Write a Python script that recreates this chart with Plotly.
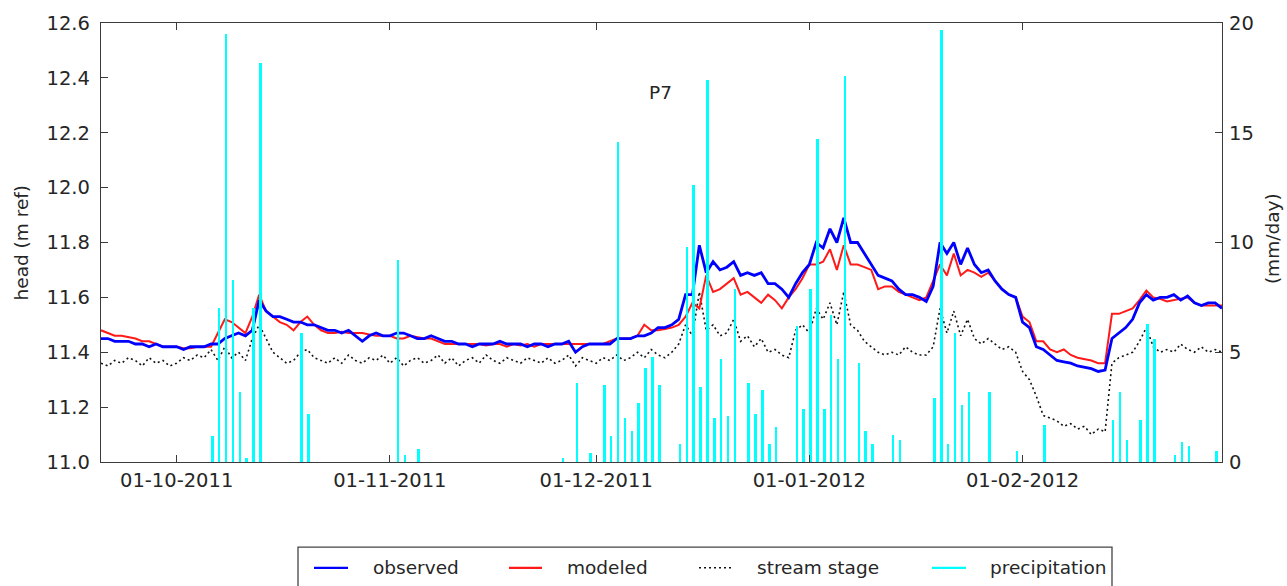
import pandas as pd
import plotly.graph_objects as go

# ---- daily series, 20 Sep 2011 .. 1 Mar 2012 ----
dates = pd.date_range("2011-09-20", "2012-03-01", freq="D")

obs_sep = [11.45, 11.45, 11.44, 11.44, 11.44, 11.43, 11.43, 11.42, 11.43, 11.42, 11.42]
obs_oct = [11.42, 11.41, 11.42, 11.42, 11.42, 11.43, 11.43, 11.45, 11.46, 11.47,
           11.46, 11.48, 11.59, 11.55, 11.53, 11.53, 11.52, 11.51, 11.51, 11.50,
           11.50, 11.49, 11.48, 11.48, 11.47, 11.48, 11.46, 11.44, 11.46, 11.47, 11.46]
obs_nov = [11.46, 11.47, 11.47, 11.46, 11.45, 11.45, 11.46, 11.45, 11.44, 11.44,
           11.43, 11.43, 11.42, 11.43, 11.43, 11.43, 11.44, 11.43, 11.43, 11.43,
           11.42, 11.43, 11.43, 11.42, 11.43, 11.43, 11.44, 11.40, 11.42, 11.43]
obs_dec = [11.43, 11.43, 11.43, 11.45, 11.45, 11.45, 11.46, 11.46, 11.47, 11.49,
           11.49, 11.50, 11.52, 11.61, 11.61, 11.79, 11.69, 11.73, 11.70, 11.71,
           11.73, 11.68, 11.69, 11.68, 11.69, 11.65, 11.65, 11.63, 11.60, 11.65, 11.69]
obs_jan = [11.72, 11.80, 11.78, 11.85, 11.80, 11.89, 11.80, 11.80, 11.76, 11.72,
           11.68, 11.67, 11.66, 11.63, 11.61, 11.61, 11.60, 11.585, 11.64, 11.80,
           11.76, 11.80, 11.72, 11.78, 11.72, 11.69, 11.70, 11.66, 11.63, 11.61, 11.60]
obs_feb = [11.51, 11.49, 11.42, 11.41, 11.39, 11.37, 11.365, 11.36, 11.35, 11.345,
           11.34, 11.33, 11.335, 11.45, 11.47, 11.49, 11.52, 11.58, 11.61, 11.59,
           11.60, 11.60, 11.61, 11.59, 11.605, 11.58, 11.57, 11.58, 11.58]
obs_mar = [11.56]

mod_sep = [11.48, 11.47, 11.46, 11.46, 11.455, 11.45, 11.44, 11.44, 11.43, 11.42, 11.42]
mod_oct = [11.42, 11.415, 11.415, 11.42, 11.42, 11.42, 11.47, 11.52, 11.51, 11.49,
           11.47, 11.53, 11.61, 11.55, 11.53, 11.51, 11.50, 11.48, 11.51, 11.53,
           11.50, 11.48, 11.47, 11.47, 11.475, 11.47, 11.47, 11.47, 11.465, 11.46, 11.46]
mod_nov = [11.46, 11.45, 11.45, 11.46, 11.455, 11.45, 11.45, 11.44, 11.43, 11.43,
           11.43, 11.43, 11.43, 11.43, 11.425, 11.43, 11.43, 11.42, 11.43, 11.425,
           11.43, 11.42, 11.43, 11.43, 11.43, 11.43, 11.43, 11.43, 11.43, 11.43]
mod_dec = [11.43, 11.43, 11.44, 11.45, 11.45, 11.45, 11.46, 11.50, 11.48, 11.48,
           11.485, 11.49, 11.50, 11.53, 11.58, 11.56, 11.68, 11.62, 11.63, 11.65,
           11.67, 11.61, 11.62, 11.60, 11.58, 11.61, 11.59, 11.56, 11.60, 11.63, 11.67]
mod_jan = [11.72, 11.72, 11.73, 11.775, 11.70, 11.79, 11.72, 11.72, 11.71, 11.70,
           11.63, 11.64, 11.64, 11.62, 11.61, 11.60, 11.59, 11.60, 11.66, 11.72,
           11.68, 11.76, 11.68, 11.70, 11.69, 11.675, 11.69, 11.66, 11.63, 11.61, 11.60]
mod_feb = [11.53, 11.51, 11.44, 11.44, 11.41, 11.40, 11.41, 11.39, 11.38, 11.375,
           11.37, 11.36, 11.36, 11.54, 11.54, 11.55, 11.56, 11.59, 11.625, 11.60,
           11.595, 11.585, 11.59, 11.595, 11.60, 11.58, 11.57, 11.57, 11.57]
mod_mar = [11.57]

stage_sep = [11.36, 11.35, 11.37, 11.36, 11.38, 11.37, 11.35, 11.38, 11.36, 11.37, 11.35]
stage_oct = [11.36, 11.38, 11.37, 11.39, 11.38, 11.41, 11.37, 11.42, 11.38, 11.40,
             11.37, 11.45, 11.50, 11.45, 11.40, 11.38, 11.36, 11.37, 11.40, 11.41,
             11.38, 11.37, 11.36, 11.38, 11.36, 11.39, 11.37, 11.36, 11.38, 11.37, 11.39]
stage_nov = [11.36, 11.38, 11.35, 11.37, 11.38, 11.36, 11.37, 11.39, 11.36, 11.38,
             11.35, 11.37, 11.38, 11.36, 11.39, 11.37, 11.36, 11.38, 11.37, 11.36,
             11.38, 11.37, 11.36, 11.38, 11.36, 11.37, 11.39, 11.35, 11.38, 11.37]
stage_dec = [11.36, 11.38, 11.37, 11.39, 11.37, 11.38, 11.40, 11.38, 11.41, 11.39,
             11.38, 11.40, 11.43, 11.50, 11.46, 11.62, 11.48, 11.50, 11.46, 11.47,
             11.52, 11.44, 11.46, 11.42, 11.45, 11.40, 11.41, 11.39, 11.38, 11.48, 11.50]
stage_jan = [11.47, 11.56, 11.52, 11.58, 11.50, 11.62, 11.50, 11.48, 11.44, 11.42,
             11.40, 11.39, 11.40, 11.39, 11.42, 11.40, 11.39, 11.39, 11.42, 11.56,
             11.47, 11.55, 11.46, 11.52, 11.45, 11.43, 11.45, 11.43, 11.41, 11.42, 11.40]
stage_feb = [11.33, 11.30, 11.24, 11.17, 11.16, 11.15, 11.13, 11.14, 11.12, 11.13,
             11.10, 11.12, 11.11, 11.36, 11.38, 11.39, 11.40, 11.44, 11.49, 11.42,
             11.40, 11.41, 11.40, 11.43, 11.41, 11.40, 11.42, 11.40, 11.41]
stage_mar = [11.40]

observed = obs_sep + obs_oct + obs_nov + obs_dec + obs_jan + obs_feb + obs_mar
modeled = mod_sep + mod_oct + mod_nov + mod_dec + mod_jan + mod_feb + mod_mar
stage = stage_sep + stage_oct + stage_nov + stage_dec + stage_jan + stage_feb + stage_mar

# ---- daily precipitation (mm/day), wet days only ----
precip_dates = [
    "2011-10-06", "2011-10-07", "2011-10-08", "2011-10-09", "2011-10-10", "2011-10-11",
    "2011-10-12", "2011-10-13", "2011-10-19", "2011-10-20", "2011-11-02", "2011-11-03",
    "2011-11-05", "2011-11-26", "2011-11-28", "2011-11-30", "2011-12-02", "2011-12-03",
    "2011-12-04", "2011-12-05", "2011-12-06", "2011-12-07", "2011-12-08", "2011-12-09",
    "2011-12-10", "2011-12-13", "2011-12-14", "2011-12-15", "2011-12-16", "2011-12-17",
    "2011-12-18", "2011-12-19", "2011-12-20", "2011-12-21", "2011-12-23", "2011-12-24",
    "2011-12-25", "2011-12-26", "2011-12-27", "2011-12-30", "2011-12-31", "2012-01-01",
    "2012-01-02", "2012-01-03", "2012-01-04", "2012-01-05", "2012-01-06", "2012-01-08",
    "2012-01-09", "2012-01-10", "2012-01-13", "2012-01-14", "2012-01-19", "2012-01-20",
    "2012-01-21", "2012-01-22", "2012-01-23", "2012-01-24", "2012-01-27", "2012-01-31",
    "2012-02-04", "2012-02-14", "2012-02-15", "2012-02-16", "2012-02-18", "2012-02-19",
    "2012-02-20", "2012-02-23", "2012-02-24", "2012-02-25", "2012-02-29",
]
precip_mm = [
    1.2, 7.0, 19.5, 8.3, 3.2, 0.2,
    7.0, 18.2, 5.9, 2.2, 9.2, 0.3,
    0.6, 0.2, 3.6, 0.4, 3.5, 1.2,
    14.6, 2.0, 1.4, 2.7, 4.3, 4.8,
    3.5, 0.8, 9.8, 12.6, 3.4, 17.4,
    2.0, 4.7, 2.1, 7.9, 3.6, 2.2,
    3.3, 0.8, 1.6, 6.2, 2.4, 7.9,
    14.7, 2.4, 6.7, 4.7, 17.6, 4.5,
    1.4, 0.8, 1.25, 1.0, 2.9, 19.7,
    0.8, 5.9, 2.6, 3.2, 3.2, 0.5,
    1.7, 1.9, 3.2, 1.0, 1.9, 6.3,
    5.6, 0.3, 0.9, 0.75, 0.5,
]

month_ticks = ["2011-10-01", "2011-11-01", "2011-12-01", "2012-01-01", "2012-02-01"]
month_labels = ["01-10-2011", "01-11-2011", "01-12-2011", "01-01-2012", "01-02-2012"]
head_ticks = [11.0, 11.2, 11.4, 11.6, 11.8, 12.0, 12.2, 12.4, 12.6]
rain_ticks = [0, 5, 10, 15, 20]

FONT = "DejaVu Sans"
INK = "#262626"
AXIS = "#3a3a3a"
DAY_MS = 86400000
TICK_SIZE = 19.5
TEXT_SIZE = 18.5

fig = go.Figure()
fig.add_trace(go.Scatter(x=dates, y=stage, mode="lines", name="stream stage",
                         line=dict(color="#111111", width=1.6, dash="2px,3px")))
fig.add_trace(go.Scatter(x=dates, y=modeled, mode="lines", name="modeled",
                         line=dict(color="#ff1a1a", width=2)))
fig.add_trace(go.Scatter(x=dates, y=observed, mode="lines", name="observed",
                         line=dict(color="#0000ff", width=2.8)))
fig.add_trace(go.Bar(x=precip_dates, y=precip_mm, name="precipitation", yaxis="y2",
                     marker=dict(color="#00ffff", line=dict(width=0)),
                     width=0.36 * DAY_MS, offset=0))

fig.update_layout(
    width=1287, height=586,
    margin=dict(l=101, r=65, t=18, b=124),
    paper_bgcolor="white", plot_bgcolor="white",
    showlegend=False,
    font=dict(family=FONT, size=TEXT_SIZE, color=INK),
    bargap=0,
    xaxis=dict(
        type="date", range=["2011-09-20", "2012-03-01"],
        tickvals=month_ticks, ticktext=month_labels,
        ticks="inside", ticklen=7, tickwidth=1, tickcolor=AXIS,
        showline=True, linecolor=AXIS, linewidth=1.3, mirror="ticks",
        showgrid=False, zeroline=False,
        tickfont=dict(family=FONT, size=TICK_SIZE, color=INK),
    ),
    yaxis=dict(
        range=[11.0, 12.6], tickvals=head_ticks,
        ticktext=[f"{v:.1f}" for v in head_ticks],
        ticks="inside", ticklen=7, tickwidth=1, tickcolor=AXIS,
        showline=True, linecolor=AXIS, linewidth=1.3,
        showgrid=False, zeroline=False,
        tickfont=dict(family=FONT, size=TICK_SIZE, color=INK),
        ticklabelstandoff=6,
    ),
    yaxis2=dict(
        range=[0, 20], tickvals=rain_ticks, overlaying="y", side="right",
        ticks="inside", ticklen=7, tickwidth=1, tickcolor=AXIS,
        showline=True, linecolor=AXIS, linewidth=1.3,
        showgrid=False, zeroline=False,
        tickfont=dict(family=FONT, size=TICK_SIZE, color=INK),
        ticklabelstandoff=2,
    ),
)

# axis titles and panel label
fig.add_annotation(text="head (m ref)", xref="paper", yref="paper", x=-0.0705, y=0.5,
                   textangle=-90, showarrow=False, font=dict(size=TEXT_SIZE, color=INK),
                   xanchor="center", yanchor="middle")
fig.add_annotation(text="(mm/day)", xref="paper", yref="paper", x=1.0446, y=0.51,
                   textangle=-90, showarrow=False, font=dict(size=TEXT_SIZE, color=INK),
                   xanchor="center", yanchor="middle")
fig.add_annotation(text="P7", xref="paper", yref="paper", x=0.4987, y=0.842,
                   showarrow=False, font=dict(size=TEXT_SIZE, color=INK),
                   xanchor="center", yanchor="middle")

# legend frame below the axes
def px_x(p):
    return (p - 101) / 1121.0

def px_y(p):
    return (462 - p) / 444.0

fig.add_shape(type="rect", xref="paper", yref="paper",
              x0=px_x(298), x1=px_x(1112), y0=px_y(548), y1=px_y(596),
              line=dict(color="#444444", width=1.3), fillcolor="white", layer="above")

legend_items = [
    ("observed", dict(color="#0000ff", width=2.2), 314, 348, 371),
    ("modeled", dict(color="#ff1a1a", width=2.2), 509, 542, 565),
    ("stream stage", dict(color="#111111", width=1.6, dash="2px,3px"), 699, 734, 755),
    ("precipitation", dict(color="#00ffff", width=2.2), 932, 966, 988),
]
ly = px_y(569)
for label, style, lx0, lx1, tx in legend_items:
    fig.add_shape(type="line", xref="paper", yref="paper",
                  x0=px_x(lx0), x1=px_x(lx1), y0=ly, y1=ly, line=style)
    fig.add_annotation(text=label, xref="paper", yref="paper", x=px_x(tx), y=ly,
                       showarrow=False, xanchor="left", yanchor="middle",
                       font=dict(size=TEXT_SIZE, color=INK))

fig.write_html("out.html")
